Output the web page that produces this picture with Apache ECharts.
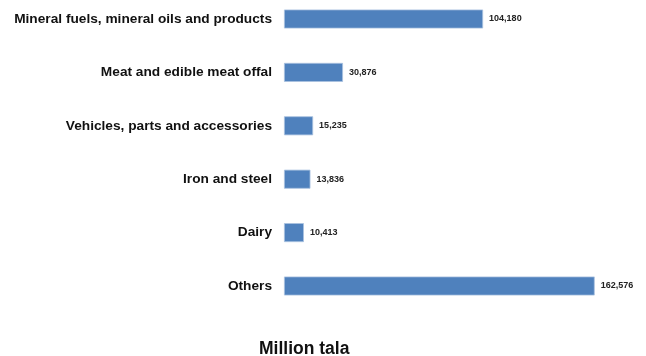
<!DOCTYPE html>
<html>
<head>
<meta charset="utf-8">
<script src="https://cdn.jsdelivr.net/npm/echarts@6/dist/echarts.min.js"></script>
<style>
  html, body { margin: 0; padding: 0; background: #ffffff; }
  #chart { width: 646px; height: 356px; }
</style>
</head>
<body>
<div id="chart"></div>
<script>
// Import categories, listed top to bottom
const categories = [
  'Mineral fuels, mineral oils and products',
  'Meat and edible meat offal',
  'Vehicles, parts and accessories',
  'Iron and steel',
  'Dairy',
  'Others'
];
// Import values in million tala
const values = [104180, 30876, 15235, 13836, 10413, 162576];
const unitLabel = 'Million tala';

const chart = echarts.init(document.getElementById('chart'), null, { renderer: 'canvas' });

chart.setOption({
  animation: false,
  backgroundColor: '#ffffff',
  title: {
    text: unitLabel,
    left: 259,
    top: 340,
    textStyle: {
      fontFamily: 'Liberation Sans, Arial, sans-serif',
      fontSize: 17.5,
      fontWeight: 'bold',
      color: '#111111'
    },
    padding: 0
  },
  grid: {
    left: 284,
    right: 18,
    top: 19,
    bottom: 70,
    containLabel: false
  },
  xAxis: {
    type: 'value',
    min: 0,
    max: 180000,
    show: false
  },
  yAxis: {
    type: 'category',
    inverse: true,
    data: categories,
    boundaryGap: false,
    axisLine: { show: false },
    axisTick: { show: false },
    splitLine: { show: false },
    axisLabel: {
      margin: 12,
      fontFamily: 'Liberation Sans, Arial, sans-serif',
      fontSize: 13.7,
      fontWeight: 'bold',
      color: '#111111'
    }
  },
  series: [{
    type: 'bar',
    data: values,
    barWidth: 19,
    itemStyle: {
      color: '#4f81bd',
      borderColor: '#a9c1e0',
      borderWidth: 0.8
    },
    label: {
      show: true,
      position: 'right',
      distance: 6,
      fontFamily: 'Liberation Sans, Arial, sans-serif',
      fontSize: 9,
      fontWeight: 'bold',
      color: '#222222',
      formatter: p => p.value.toLocaleString('en-US')
    }
  }]
});
</script>
</body>
</html>
